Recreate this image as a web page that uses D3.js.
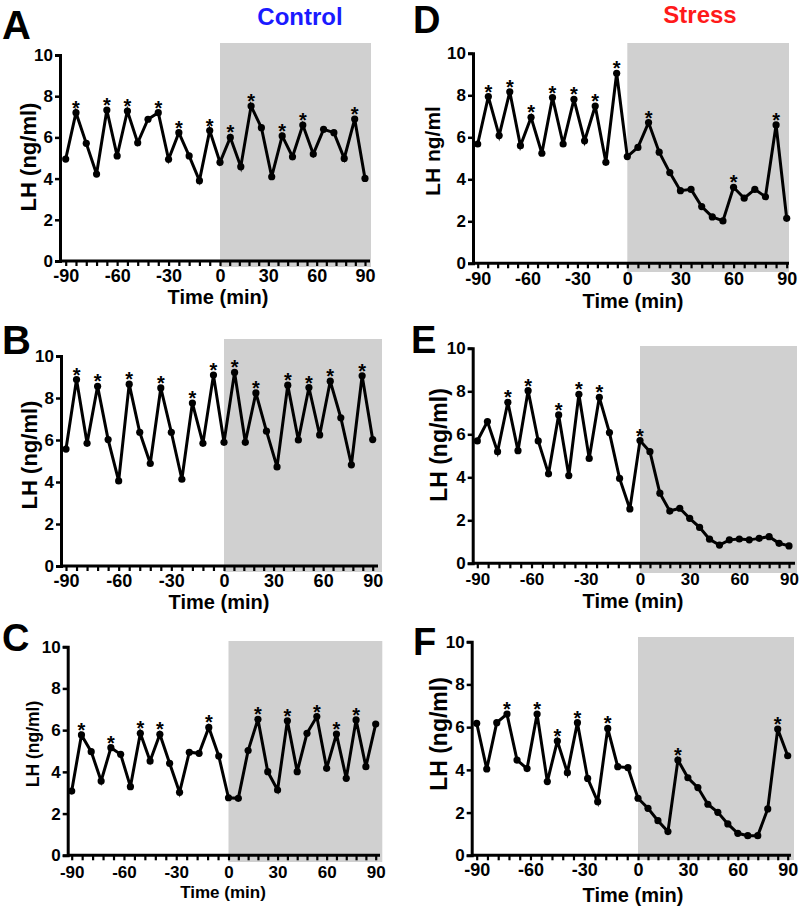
<!DOCTYPE html>
<html><head><meta charset="utf-8">
<script src="https://cdn.jsdelivr.net/npm/d3@7/dist/d3.min.js"></script>
<style>
html,body{margin:0;padding:0;background:#fff;}
text{font-family:"Liberation Sans",Arial,Helvetica,sans-serif;font-weight:bold;}
</style></head>
<body>
<script>
// ---------- data ----------
const timesAB = [-90,-84,-78,-72,-66,-60,-54,-48,-42,-36,-30,-24,-18,-12,-6,0,6.4,12.9,19.3,25.7,32.1,38.6,45,51.4,57.9,64.3,70.7,77.1,83.6,90];
const timesD = [-90,-83.6,-77.1,-70.7,-64.3,-57.9,-51.4,-45,-38.6,-32.1,-25.7,-19.3,-12.9,-6.4,0,6,12,18,24,30,36,42,48,54,60,66,72,78,84,90];
const timesCEF = [-90,-84.4,-78.8,-73.1,-67.5,-61.9,-56.3,-50.6,-45,-39.4,-33.8,-28.1,-22.5,-16.9,-11.3,-5.6,0,6,12,18,24,30,36,42,48,54,60,66,72,78,84,90];

const lhA = [4.95,7.2,5.71,4.22,7.33,5.1,7.28,5.74,6.88,7.2,4.94,6.23,5.1,3.9,6.33,4.79,6.0,4.58,7.52,6.47,4.09,6.07,5.06,6.6,5.19,6.39,6.23,4.98,6.89,4.01];
const lhB = [5.57,8.88,5.84,8.56,6.02,4.05,8.66,6.37,4.88,8.48,6.37,4.13,7.76,5.84,9.09,5.89,9.22,5.89,8.24,6.42,4.72,8.61,6.0,8.5,6.24,8.8,7.06,4.82,9.06,6.02];
const lhC = [3.08,5.77,4.97,3.56,5.16,4.84,3.29,5.85,4.52,5.8,4.41,3.02,4.94,4.89,6.13,4.76,2.76,2.73,5.02,6.52,4.01,3.13,6.45,4.01,5.85,6.65,4.17,5.81,3.69,6.49,4.25,6.29];
const lhD = [5.68,7.94,6.08,8.17,5.6,6.95,5.24,7.89,5.68,7.81,5.83,7.49,4.81,9.05,5.08,5.52,6.7,5.29,4.32,3.46,3.52,2.7,2.21,2.02,3.62,3.1,3.52,3.17,6.59,2.14];
const lhE = [5.69,6.59,5.19,7.49,5.24,8.03,5.69,4.16,6.9,4.08,7.86,4.88,7.72,6.08,3.95,2.53,5.71,5.19,3.26,2.43,2.56,2.09,1.67,1.12,0.85,1.09,1.13,1.09,1.16,1.24,0.93,0.81];
const lhF = [6.18,4.04,6.21,6.61,4.46,4.06,6.61,3.45,5.35,3.87,6.21,3.6,2.51,5.94,4.15,4.1,2.67,2.2,1.62,1.11,4.46,3.63,3.17,2.39,2.01,1.47,1.03,0.92,0.92,2.17,5.91,4.66];

// indices of pulses marked with an asterisk
const starsA = [1,4,6,9,11,14,16,18,21,23,28];
const starsB = [1,3,6,9,12,14,16,18,21,23,25,28];
const starsC = [1,4,7,9,14,19,22,25,27,29];
const starsD = [1,3,5,7,9,11,13,16,24,28];
const starsE = [3,5,8,10,12,16];
const starsF = [3,6,8,10,13,20,30];

const yTicks = [0,2,4,6,8,10];
const xLabelTicks = [-90,-60,-30,0,30,60,90];
const groupTitles = ["Control","Stress"];

// ---------- layout ----------
const layout = [
 {letter:"A", t:timesAB, v:lhA, s:starsA, ax:60, xa:65.7, xz:220, xb:365, xEnd:370, y0:261, y10:55,
  shade:[43,267,371], yt:"LH (ng/ml)", ytx:28, yty:157, yts:22, xty:304, xtx:218, xts:20, xlb:282, lx:2, ly:39, ls:40, tick:17, xtick:18},
 {letter:"B", t:timesAB, v:lhB, s:starsB, ax:61, xa:66, xz:224, xb:372.7, xEnd:378, y0:566, y10:356,
  shade:[339,572,382], yt:"LH (ng/ml)", ytx:29, yty:455, yts:22, xty:609, xtx:219, xts:20, xlb:587, lx:2, ly:354, ls:40, tick:17, xtick:18},
 {letter:"C", t:timesCEF, v:lhC, s:starsC, ax:67.7, xa:71.7, xz:228.5, xb:375.7, xEnd:380, y0:855.3, y10:646.7,
  shade:[641,862,382.3], yt:"LH (ng/ml)", yts:17.5, ytx:33, yty:744, xty:898, xtx:223, xts:17, xlb:878, lx:2, ly:651, ls:38, tick:17, xtick:17},
 {letter:"D", t:timesD, v:lhD, s:starsD, ax:473, xa:477.7, xz:627.3, xb:786.7, xEnd:789, y0:263.3, y10:53.3,
  shade:[43,272,789], yt:"LH ng/ml", ytx:433, yty:151, yts:21, xty:308, xtx:633, xts:20, xlb:285, lx:413, ly:33, ls:38, tick:17, xtick:18},
 {letter:"E", t:timesCEF, v:lhE, s:starsE, ax:472.7, xa:477.3, xz:640, xb:789, xEnd:795, y0:563.3, y10:348.3,
  shade:[346,573,797], yt:"LH (ng/ml)", ytx:439, yty:445, yts:23, xty:608, xtx:633, xts:20, xlb:585, lx:411, ly:353, ls:38, tick:17, xtick:17},
 {letter:"F", t:timesCEF, v:lhF, s:starsF, ax:471.7, xa:476.7, xz:638, xb:787.7, xEnd:791, y0:855.3, y10:641.7,
  shade:[637,860,794], yt:"LH (ng/ml)", ytx:439, yty:734, yts:23, xty:902, xtx:633, xts:20, xlb:876, lx:413, ly:655, ls:38, tick:17, xtick:18}
];

const svg = d3.select("body").append("svg").attr("width",800).attr("height",906)
  .style("display","block");

layout.forEach(p => {
  const g = svg.append("g");
  const x = d3.scaleLinear().domain([-90,0,90]).range([p.xa,p.xz,p.xb]);
  const y = d3.scaleLinear().domain([0,10]).range([p.y0,p.y10]);

  // shaded stress window
  g.append("rect").attr("x",x(0)).attr("y",p.shade[0])
    .attr("width",p.shade[2]-x(0)).attr("height",p.shade[1]-p.shade[0])
    .attr("fill","#d0d0d0");

  // x axis
  const xa = d3.axisBottom(x).tickValues(d3.range(-90,91,6)).tickSize(5).tickPadding(4)
    .tickFormat(d => xLabelTicks.includes(d) ? d : "");
  const gx = g.append("g").attr("transform",`translate(0,${p.y0})`).call(xa);
  gx.select(".domain").remove();
  gx.selectAll(".tick line").attr("stroke","#000").attr("stroke-width",2.2);
  gx.selectAll(".tick text").attr("font-size",p.xtick).attr("fill","#000")
    .attr("y",null).attr("dy",null).attr("transform",`translate(0,${p.xlb-p.y0})`);
  g.append("line").attr("x1",p.ax).attr("x2",p.xEnd).attr("y1",p.y0).attr("y2",p.y0)
    .attr("stroke","#000").attr("stroke-width",3);

  // y axis
  const ya = d3.axisLeft(y).tickValues(yTicks).tickSize(5).tickPadding(2);
  const gy = g.append("g").attr("transform",`translate(${p.ax},0)`).call(ya);
  gy.select(".domain").attr("stroke","#000").attr("stroke-width",3);
  gy.selectAll(".tick line").attr("stroke","#000").attr("stroke-width",2.5);
  gy.selectAll(".tick text").attr("font-size",p.tick).attr("fill","#000");

  // data line
  const pts = p.t.map((t,i)=>({t, v:p.v[i], i}));
  g.append("path").datum(pts)
    .attr("d", d3.line().x(d=>x(d.t)).y(d=>y(d.v)))
    .attr("fill","none").attr("stroke","#000").attr("stroke-width",3);
  g.selectAll("circle.pt").data(pts).join("circle").attr("class","pt")
    .attr("cx",d=>x(d.t)).attr("cy",d=>y(d.v)).attr("r",3.6).attr("fill","#000");

  // asterisks
  g.selectAll("text.star").data(p.s).join("text").attr("class","star")
    .attr("x",i=>x(p.t[i])).attr("y",i=>y(p.v[i])+2)
    .attr("text-anchor","middle").attr("font-size",20).attr("fill","#000").text("*");

  // axis titles
  g.append("text").attr("transform",`translate(${p.ytx},${p.yty}) rotate(-90)`)
    .attr("text-anchor","middle").attr("dy","0.35em").attr("font-size",p.yts).text(p.yt);
  g.append("text").attr("x",p.xtx).attr("y",p.xty).attr("text-anchor","middle")
    .attr("font-size",p.xts).text("Time (min)");

  // panel letter
  g.append("text").attr("x",p.lx).attr("y",p.ly).attr("font-size",p.ls).text(p.letter);
});

// group titles
svg.append("text").attr("x",300).attr("y",25).attr("text-anchor","middle")
  .attr("font-size",24).attr("fill","#1a1aff").text(groupTitles[0]);
svg.append("text").attr("x",700).attr("y",23).attr("text-anchor","middle")
  .attr("font-size",24).attr("fill","#ff1a1a").text(groupTitles[1]);
</script>
</body></html>
